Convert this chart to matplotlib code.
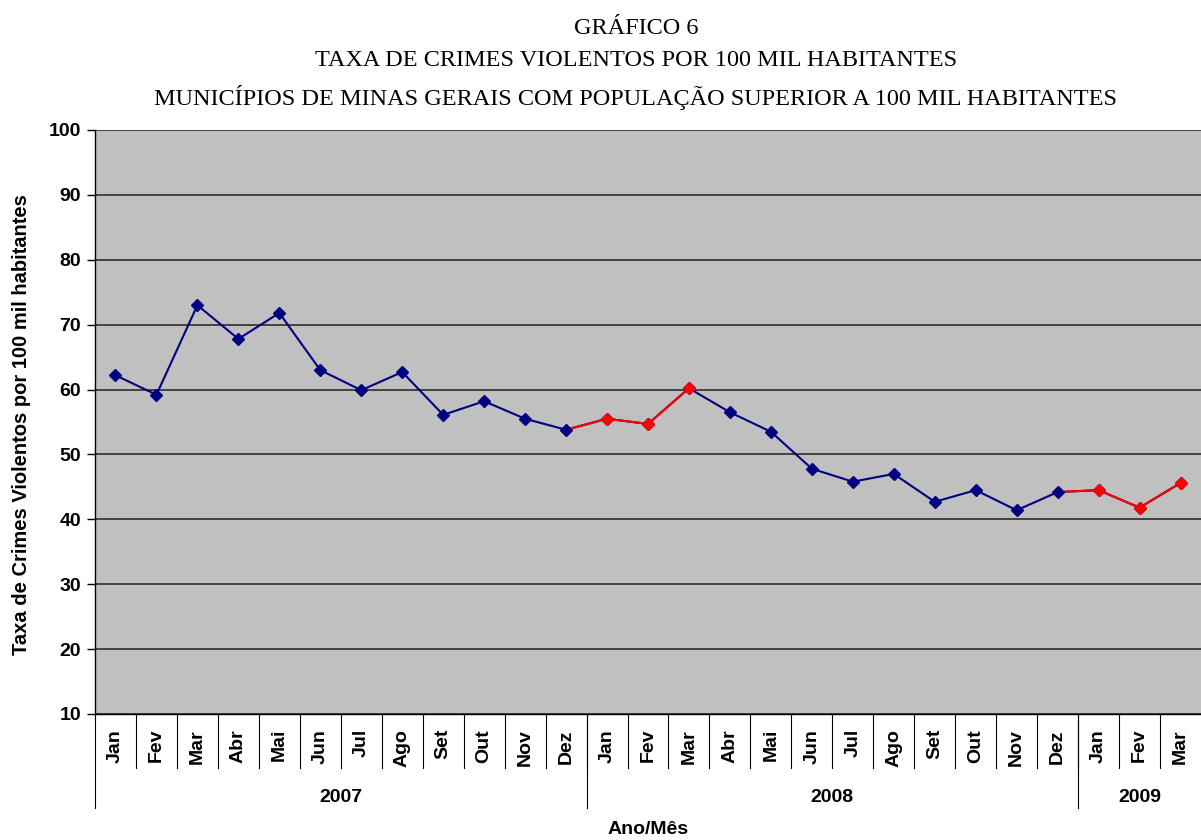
import matplotlib
matplotlib.use("Agg")
import matplotlib.pyplot as plt
import matplotlib.transforms as mtransforms

plt.rcParams["font.family"] = ["Liberation Sans", "DejaVu Sans"]

meses = ["Jan", "Fev", "Mar", "Abr", "Mai", "Jun", "Jul", "Ago", "Set", "Out", "Nov", "Dez"]
rotulos = meses + meses + meses[:3]
anos = ["2007", "2008", "2009"]
meses_por_ano = [12, 12, 3]

taxa = [62.2, 59.2, 73.0, 67.8, 71.8, 63.0, 59.9, 62.7, 56.1, 58.2, 55.5, 53.8,
        55.5, 54.7, 60.2, 56.5, 53.5, 47.8, 45.8, 47.0, 42.7, 44.5, 41.4, 44.2,
        44.5, 41.8, 45.6]

# trechos em vermelho (jan-mar de 2008 e 2009, ligados ao dezembro anterior)
trechos_vermelhos = [(11, 14), (23, 26)]

fig = plt.figure(figsize=(12.01, 8.40), dpi=100)
ax = fig.add_axes([95 / 1201, 1 - 714 / 840, 1 - 95 / 1201, (714 - 130) / 840])
ax.set_facecolor("#C0C0C0")

x = list(range(len(taxa)))
ax.plot(x, taxa, color="#000080", lw=1.5, zorder=3)
for ini, fim in trechos_vermelhos:
    ax.plot(x[ini:fim + 1], taxa[ini:fim + 1], color="#FF0000", lw=1.5, zorder=4)
ax.plot(x, taxa, color="#000080", lw=0, marker="D", ms=6.5, zorder=5)
for ini, fim in trechos_vermelhos:
    ax.plot(x[ini + 1:fim + 1], taxa[ini + 1:fim + 1], color="#FF0000", lw=0,
            marker="D", ms=6.5, zorder=6)

ax.set_xlim(-0.5, len(taxa) - 0.5)
ax.set_ylim(10, 100)
ax.set_yticks(range(10, 101, 10))
ax.yaxis.grid(True, color="#202020", lw=1.1)
ax.set_axisbelow(True)
ax.tick_params(axis="y", labelsize=14, length=6, width=1, pad=4)
for lbl in ax.get_yticklabels():
    lbl.set_fontweight("bold")
ax.set_xticks([])
for s in ["top", "right"]:
    ax.spines[s].set_visible(False)
ax.spines["left"].set_linewidth(1)
ax.spines["bottom"].set_linewidth(1)

# eixo x em dois niveis
trans = mtransforms.blended_transform_factory(ax.transData, fig.transFigure)
y0 = 1 - 714 / 840
for i, r in enumerate(rotulos):
    ax.text(i, 1 - 729 / 840, r, transform=trans, rotation=90, ha="center", va="top",
            fontsize=14, fontweight="bold")
for i in range(1, len(rotulos)):
    ax.plot([i - 0.5, i - 0.5], [y0, 1 - 768 / 840], transform=trans, color="black",
            lw=0.8, clip_on=False)
bordas = [-0.5]
for n in meses_por_ano:
    bordas.append(bordas[-1] + n)
for b in bordas[:-1]:
    ax.plot([b, b], [y0, 1 - 808 / 840], transform=trans, color="black", lw=0.8, clip_on=False)
for a, b0, b1 in zip(anos, bordas[:-1], bordas[1:]):
    ax.text((b0 + b1) / 2, 1 - 797 / 840, a, transform=trans, ha="center", va="center",
            fontsize=14, fontweight="bold")

fig.text(648 / 1201, 1 - 829 / 840, "Ano/Mês", ha="center", va="center",
         fontsize=14, fontweight="bold")
fig.text(22 / 1201, 1 - 425 / 840, "Taxa de Crimes Violentos por 100 mil habitantes",
         rotation=90, ha="center", va="center", fontsize=14.5, fontweight="bold")

titulos = ["GRÁFICO 6",
           "TAXA DE CRIMES VIOLENTOS POR 100 MIL HABITANTES",
           "MUNICÍPIOS DE MINAS GERAIS COM POPULAÇÃO SUPERIOR A 100 MIL HABITANTES"]
for t, yy in zip(titulos, [28, 61, 97]):
    fig.text(636 / 1201, 1 - yy / 840, t, ha="center", va="center",
             fontsize=17.5, family="Liberation Serif")

fig.savefig("out.png", dpi=100)
